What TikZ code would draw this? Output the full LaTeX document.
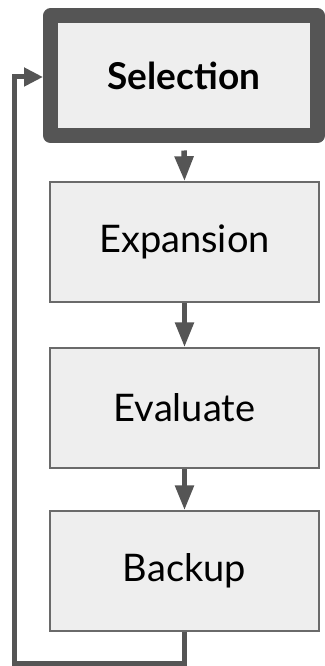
\documentclass[tikz,border=0pt]{standalone}
\usepackage{fontspec}
\setmainfont{Lato}
\usetikzlibrary{arrows.meta}
\definecolor{linegrey}{HTML}{555555}
\definecolor{boxfill}{HTML}{EEEEEE}
\definecolor{boxline}{HTML}{6A6A6A}
\begin{document}
\begin{tikzpicture}[x=1pt,y=-1pt,
  stage/.style={draw=boxline, fill=boxfill, line width=1.5pt, minimum width=269pt, minimum height=120pt, inner sep=0pt, font=\fontsize{38}{42}\selectfont},
  current/.style={draw=linegrey, fill=boxfill, line width=15pt, line join=round, minimum width=267pt, minimum height=119.5pt, inner sep=0pt, font=\fontsize{37}{42}\selectfont\bfseries},
  flow/.style={draw=linegrey, line width=5.5pt, -{Triangle[length=25pt,width=18pt]}},
  loop/.style={draw=linegrey, line width=5pt}]
\useasboundingbox (0,0) rectangle (324,666);
\fill[white] (0,0) rectangle (324,666);
\node[current] (sel) at (184,75.75) {Selection};
\node[stage] (exp) at (184.5,242) {Expansion};
\node[stage] (eva) at (184.5,408) {Evaluate};
\node[stage] (bak) at (184.5,571) {Backup};
\draw[flow] (sel.south) ++(0,7.5) coordinate (s0) -- (exp.north);
\draw[flow] (exp.south) -- (eva.north);
\draw[flow] (eva.south) -- (bak.north);
\coordinate (b2) at (14,663.5);
\coordinate (b4) at (43,77);
\draw[loop, line join=miter, -{Triangle[length=19pt,width=18pt]}] (bak.south) |- (b2) |- (b4);
\end{tikzpicture}
\end{document}
